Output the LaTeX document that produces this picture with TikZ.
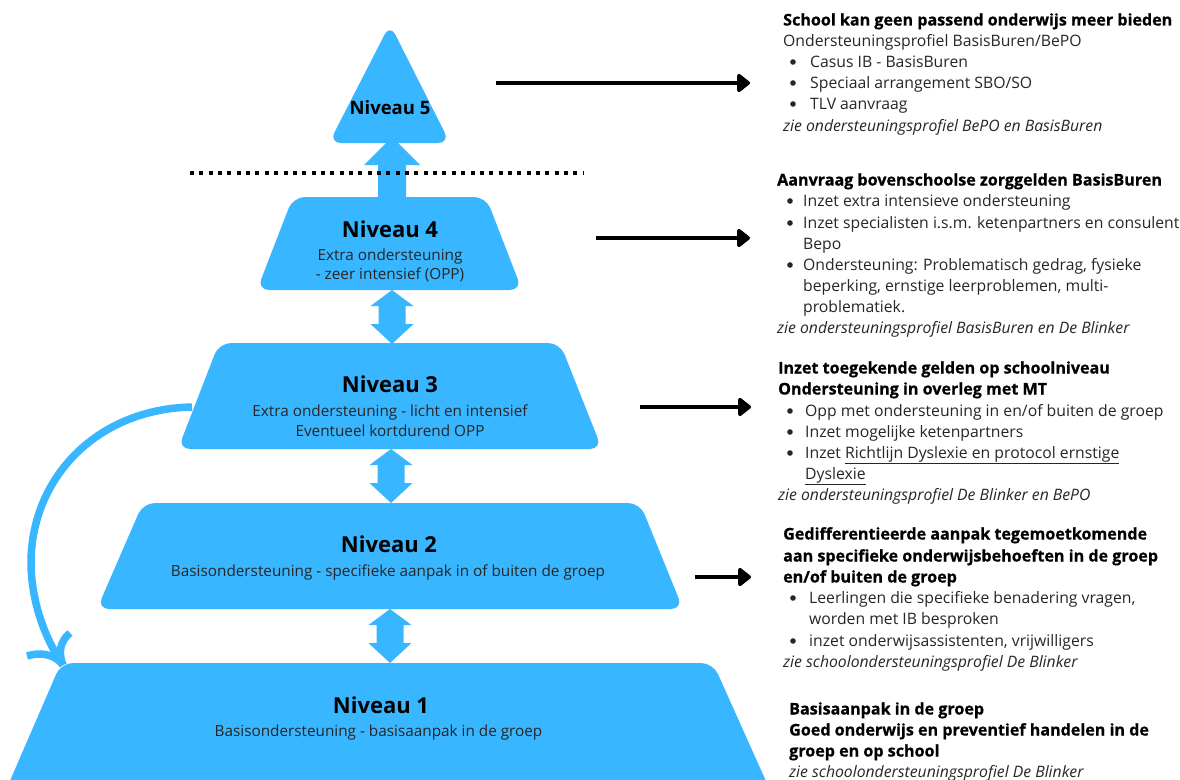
\documentclass[tikz,border=0pt]{standalone}
\usepackage{fontspec}
\setmainfont{Open Sans}
\newfontfamily\heavyfont{Open Sans}[FakeBold=0.6]
\usetikzlibrary{arrows.meta}
\definecolor{skyb}{HTML}{38B6FF}
\definecolor{txt}{HTML}{262626}
\begin{document}
\begin{tikzpicture}[x=1bp,y=-1bp,
 lvl/.style={fill=skyb, rounded corners=12bp},
 ttl/.style={anchor=base, inner sep=0pt, font=\fontsize{22bp}{26bp}\selectfont\bfseries, text=black},
 sub/.style={anchor=base, inner sep=0pt, font=\fontsize{15.3bp}{19bp}\selectfont, text=txt},
 rt/.style={anchor=base west, inner sep=0pt, font=\fontsize{15.75bp}{21bp}\selectfont, text=txt},
 rb/.style={anchor=base west, inner sep=0pt, font=\fontsize{16.1bp}{21bp}\heavyfont\bfseries, text=black},
 ri/.style={anchor=base west, inner sep=0pt, font=\fontsize{15.75bp}{21bp}\selectfont\itshape, text=txt},
 bul/.style={circle, fill=txt, inner sep=0pt, minimum size=5.6bp},
 blk/.style={-{Triangle[length=14bp,width=21bp,round]}, line width=4.5bp, black},
 curv/.style={skyb, line width=7.5bp},
 dbl/.pic={\fill[skyb] (0,0) -- (21.5,16) -- (13.5,16) -- (13.5,34) -- (21.5,34) -- (0,54) -- (-21.5,34) -- (-13.5,34) -- (-13.5,16) -- (-21.5,16) -- cycle;}
]
\useasboundingbox (0,0) rectangle (1180,780);
\fill[white] (0,0) rectangle (1180,780);

% curved arrow from level 3 to level 1 (drawn beneath the levels)
\coordinate (c3) at (192,407);
\coordinate (c1) at (63,665);
\coordinate (bl) at (27,656);
\coordinate (br) at (70,633);
\draw[curv] (c3) .. controls (95,409) and (30,480) .. (31,565) .. controls (32,605) and (46,640) .. (c1);
\draw[curv] (bl) .. controls (44,651) and (56,656) .. (c1);
\draw[curv] (br) .. controls (60,641) and (58,653) .. (c1);

% pyramid levels
\fill[lvl] (390,24) -- (450,143) -- (329,143) -- cycle;
\fill[lvl] (293,197) -- (486,197) -- (522,290) -- (257,290) -- cycle;
\fill[lvl] (219,343) -- (560,343) -- (602,449) -- (178,449) -- cycle;
\fill[lvl] (143,503) -- (640,503) -- (683,609) -- (97,609) -- cycle;
\fill[lvl] (61,663) -- (713,663) -- (770,790) -- (6,790) -- cycle;

% connectors between levels
\fill[skyb] (378,200) -- (378,165) -- (364,165) -- (392,137) -- (420,165) -- (406,165) -- (406,200) -- cycle;
\pic at (392,290) {dbl};
\pic at (391,449) {dbl};
\pic at (390,609) {dbl};

% dotted separator
\draw[line width=4bp, dash pattern=on 4bp off 5.35bp] (190,173) -- (584,173);

% level texts
\node[ttl, font=\fontsize{18.5bp}{22bp}\selectfont\bfseries] (n5) at (390,114.5) {Niveau 5};
\node[ttl] (n4) at (390,237) {Niveau 4};
\node[sub] (n4a) at (390,260) {Extra ondersteuning};
\node[sub] (n4b) at (390,279) {- zeer intensief (OPP)};
\node[ttl] (n3) at (390,392) {Niveau 3};
\node[sub] (n3a) at (390,416) {Extra ondersteuning - licht en intensief};
\node[sub] (n3b) at (390,436) {Eventueel kortdurend OPP};
\node[ttl] (n2) at (389,552) {Niveau 2};
\node[sub] (n2a) at (388,576) {Basisondersteuning - specifieke aanpak in of buiten de groep};
\node[ttl] (n1) at (381,713) {Niveau 1};
\node[sub] (n1a) at (378.5,736) {Basisondersteuning - basisaanpak in de groep};

% black arrows
\coordinate (a5s) at (496,83);  \coordinate (a5e) at (750,83);
\coordinate (a4s) at (596,238); \coordinate (a4e) at (750,238);
\coordinate (a3s) at (640,407); \coordinate (a3e) at (751,407);
\coordinate (a2s) at (695,577); \coordinate (a2e) at (751,577);
\draw[blk] (a5s) -- (a5e);
\draw[blk] (a4s) -- (a4e);
\draw[blk] (a3s) -- (a3e);
\draw[blk] (a2s) -- (a2e);

% block 5
\node[rb] (b5t) at (783,25.5) {School kan geen passend onderwijs meer bieden};
\node[rt] (b5a) at (783,46.5) {Ondersteuningsprofiel BasisBuren/BePO};
\node[bul] (b5d1) at (793,62) {};
\node[rt] (b5b) at (810,67.5) {Casus IB - BasisBuren};
\node[bul] (b5d2) at (793,83) {};
\node[rt] (b5c) at (810,88.5) {Speciaal arrangement SBO/SO};
\node[bul] (b5d3) at (793,104) {};
\node[rt] (b5d) at (810,109.5) {TLV aanvraag};
\node[ri] (b5z) at (783,131.5) {zie ondersteuningsprofiel BePO en BasisBuren};

% block 4
\node[rb] (b4t) at (777,185.5) {Aanvraag bovenschoolse zorggelden BasisBuren};
\node[bul] (b4d1) at (790,201) {};
\node[rt] (b4a) at (803,206.5) {Inzet extra intensieve ondersteuning};
\node[bul] (b4d2) at (790,223) {};
\node[rt] (b4b) at (803,228.5) {Inzet specialisten i.s.m. ketenpartners en consulent};
\node[rt] (b4c) at (803,249.5) {Bepo};
\node[bul] (b4d3) at (790,265) {};
\node[rt] (b4d) at (803,270.5) {Ondersteuning: Problematisch gedrag, fysieke};
\node[rt] (b4e) at (803,291.5) {beperking, ernstige leerproblemen, multi-};
\node[rt] (b4f) at (803,312.5) {problematiek.};
\node[ri] (b4z) at (777,333.5) {zie ondersteuningsprofiel BasisBuren en De Blinker};

% block 3
\node[rb] (b3t) at (778,373.5) {Inzet toegekende gelden op schoolniveau};
\node[rb] (b3u) at (778,394.5) {Ondersteuning in overleg met MT};
\node[bul] (b3d1) at (790,411) {};
\node[rt] (b3a) at (805,416.5) {Opp met ondersteuning in en/of buiten de groep};
\node[bul] (b3d2) at (790,432) {};
\node[rt] (b3b) at (805,437.5) {Inzet mogelijke ketenpartners};
\node[bul] (b3d3) at (790,453) {};
\node[rt] (b3c) at (805,458.5) {Inzet \underline{Richtlijn Dyslexie en protocol ernstige}};
\node[rt] (b3d) at (805,479.5) {\underline{Dyslexie}};
\node[ri] (b3z) at (778,500.5) {zie ondersteuningsprofiel De Blinker en BePO};

% block 2
\node[rb] (b2t) at (783,539.5) {Gedifferentieerde aanpak tegemoetkomende};
\node[rb] (b2u) at (783,561.5) {aan specifieke onderwijsbehoeften in de groep};
\node[rb] (b2v) at (783,582.5) {en/of buiten de groep};
\node[bul] (b2d1) at (793,598) {};
\node[rt] (b2a) at (809,603.5) {Leerlingen die specifieke benadering vragen,};
\node[rt] (b2b) at (809,624.5) {worden met IB besproken};
\node[bul] (b2d2) at (793,641) {};
\node[rt] (b2c) at (809,646.5) {inzet onderwijsassistenten, vrijwilligers};
\node[ri] (b2z) at (783,667.5) {zie schoolondersteuningsprofiel De Blinker};

% block 1
\node[rb] (b1t) at (789,714.5) {Basisaanpak in de groep};
\node[rb] (b1u) at (789,735.5) {Goed onderwijs en preventief handelen in de};
\node[rb] (b1v) at (789,756.5) {groep en op school};
\node[ri] (b1z) at (789,777.5) {zie schoolondersteuningsprofiel De Blinker};
\end{tikzpicture}
\end{document}
